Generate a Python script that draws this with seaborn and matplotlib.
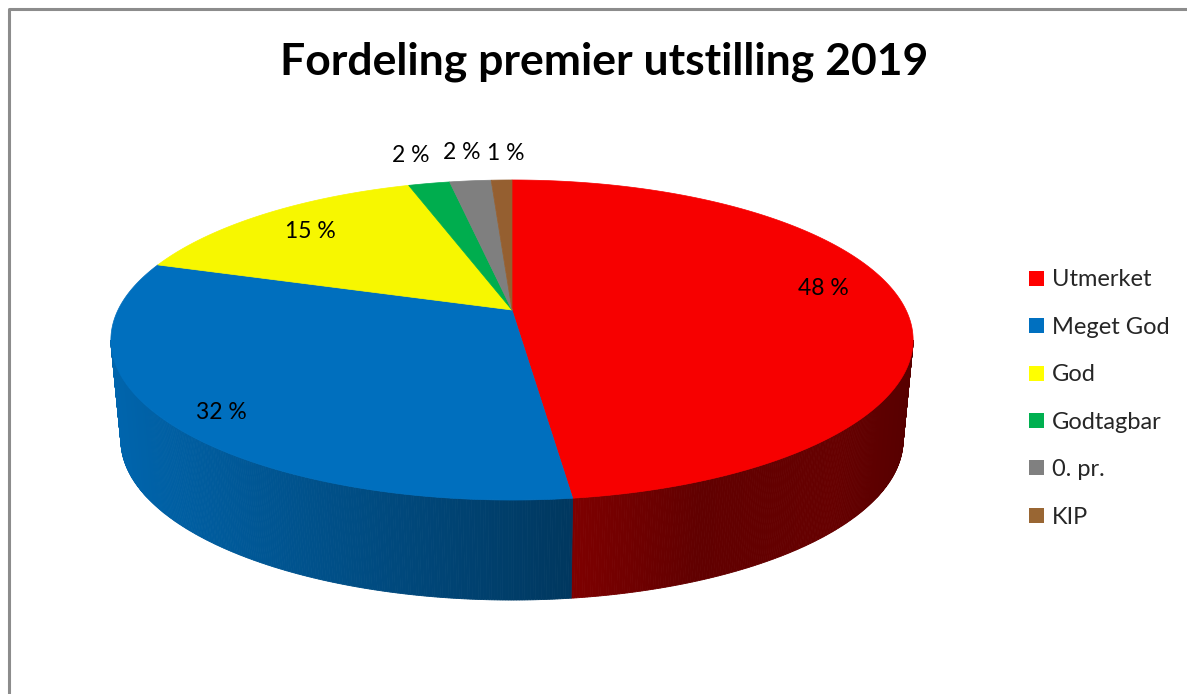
import numpy as np
import seaborn as sns
import matplotlib.pyplot as plt
from matplotlib.patches import Polygon, Patch
from matplotlib.lines import Line2D

# data
categories = ["Utmerket", "Meget God", "God", "Godtagbar", "0. pr.", "KIP"]
shares = [48, 32, 15, 2, 2, 1]
pct_labels = ["48 %", "32 %", "15 %", "2 %", "2 %", "1 %"]
legend_colors = ["#ff0000", "#0070c0", "#ffff00", "#00b050", "#808080", "#996633"]
top_colors = ["#f70000", "#006fbe", "#f7f700", "#00ad4e", "#7f7f7f", "#955f30"]

sns.set_theme(style="white")
plt.rcParams['font.family'] = ['Lato', 'DejaVu Sans']

fig = plt.figure(figsize=(11.87, 6.94), dpi=100)
ax = fig.add_axes([0, 0, 1, 1])
ax.set_xlim(0, 1187)
ax.set_ylim(694, 0)
ax.axis("off")

# perspective pie geometry (pixels)
cx, cy = 512, 310
rx, ry = 394, 154.4
k = 0.1875
depth = 100
shrink = 0.975


def project(theta, r=1.0):
    # theta in degrees, clockwise from 12 o'clock
    t = np.radians(theta)
    u = r * np.sin(t)
    v = r * np.cos(t)
    w = 1 + k * v
    return cx + rx * u / w, cy - ry * v / w


def project_bottom(theta):
    x, y = project(theta)
    return cx + shrink * (x - cx), y + depth


fracs = np.array(shares) / np.sum(shares)
bounds = np.concatenate([[0], np.cumsum(fracs) * 360])

# visible side range: between rightmost and leftmost points through the front
th_all = np.linspace(0, 360, 3601)
xs_all = project(th_all)[0]
th_right = th_all[np.argmax(xs_all)]
th_left = th_all[np.argmin(xs_all)]

shade_x = [110, 577, 700, 840, 915]
shade_f = [0.90, 0.49, 0.38, 0.40, 0.34]

# side walls
for i in range(len(shares)):
    a0 = max(bounds[i], th_right)
    a1 = min(bounds[i + 1], th_left)
    if a1 <= a0:
        continue
    base = np.array(plt.matplotlib.colors.to_rgb(legend_colors[i]))
    steps = np.linspace(a0, a1, int((a1 - a0) * 3) + 2)
    for s0, s1 in zip(steps[:-1], steps[1:]):
        p0 = project(s0)
        p1 = project(s1)
        b0 = project_bottom(s0)
        b1 = project_bottom(s1)
        f = np.interp((p0[0] + p1[0]) / 2, shade_x, shade_f)
        col = np.clip(base * f, 0, 1)
        ax.add_patch(Polygon([p0, p1, b1, b0], closed=True, facecolor=col,
                             edgecolor=col, linewidth=0.6))

# top faces
for i in range(len(shares)):
    arc = np.linspace(bounds[i], bounds[i + 1], max(int((bounds[i + 1] - bounds[i]) * 2), 4))
    pts = [(cx, cy)] + [project(a) for a in arc]
    ax.add_patch(Polygon(pts, closed=True, facecolor=top_colors[i],
                         edgecolor=top_colors[i], linewidth=0.5))

# data labels
label_r = [0.8, 0.86, 0.8, 1.27, 1.27, 1.25]
label_dx = [0, 0, 0, 0, 0, 6]
label_dy = [-14, 8, 0, 0, 0, 0]
for i in range(len(shares)):
    mid = (bounds[i] + bounds[i + 1]) / 2
    lx, ly = project(mid, label_r[i])
    ax.text(lx + label_dx[i], ly + label_dy[i], pct_labels[i], ha="center", va="center",
            fontsize=16.5, color="black")

# title
ax.text(604, 62, "Fordeling premier utstilling 2019", ha="center", va="center",
        fontsize=32, fontweight="bold", color="black")

# chart border (top and left visible)
ax.add_line(Line2D([9, 9, 1187], [694, 9, 9], color="#8c8c8c", linewidth=2.2))

# legend
handles = [Patch(facecolor=c, edgecolor="none") for c in legend_colors]
fig.legend(handles, categories, loc="upper left", bbox_to_anchor=(1020 / 1187, 1 - 260 / 694),
           frameon=False, fontsize=17, handlelength=0.6, handleheight=0.6,
           handletextpad=0.35, labelspacing=1.12, borderaxespad=0)

fig.savefig("out.png", dpi=100)
